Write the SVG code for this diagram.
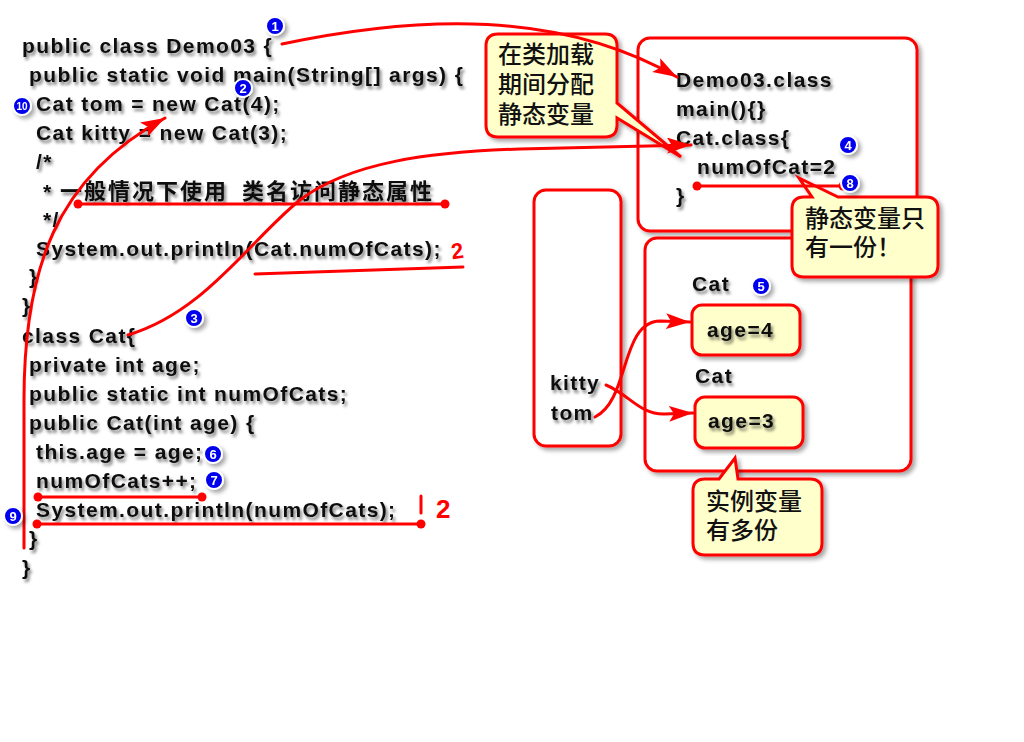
<svg xmlns="http://www.w3.org/2000/svg" width="1024" height="742" viewBox="0 0 1024 742">
<defs>
<filter id="ts" x="-5%" y="-30%" width="115%" height="170%">
<feDropShadow dx="2" dy="3" stdDeviation="1.5" flood-color="#000" flood-opacity="0.5"/>
</filter>
<filter id="bs" x="-10%" y="-10%" width="125%" height="125%">
<feDropShadow dx="3" dy="3" stdDeviation="2" flood-color="#000" flood-opacity="0.35"/>
</filter>
<marker id="ah" markerUnits="userSpaceOnUse" markerWidth="26" markerHeight="18" refX="24" refY="8" orient="auto">
<path d="M0,0 L24,8 L0,16 L5,8 Z" fill="#ff0000"/>
</marker>
<marker id="dot" markerUnits="userSpaceOnUse" markerWidth="10" markerHeight="10" refX="5" refY="5">
<circle cx="5" cy="5" r="4.5" fill="#ff0000"/>
</marker>
</defs>
<style>
.c{font-family:"Liberation Sans",Arial,sans-serif;font-weight:bold;font-size:21px;letter-spacing:1.4px;fill:#111}
.cj{font-family:"Noto Sans CJK SC",sans-serif;font-size:22px;letter-spacing:2px;fill:#111;font-weight:bold}
.co{font-family:"Noto Sans CJK SC",sans-serif;font-size:24px;fill:#111;font-weight:500}
.box{fill:#fff;stroke:#ff0000;stroke-width:3}
.yel{fill:#ffffcc;stroke:#ff0000;stroke-width:3}
.ln{fill:none;stroke:#ff0000;stroke-width:3;stroke-linecap:round}
.bd circle{fill:#0000ee;stroke:#fff;stroke-width:2}
.bd text{font-family:"Liberation Sans",Arial,sans-serif;font-weight:bold;font-size:13px;fill:#fff;text-anchor:middle}
.hw{font-family:"Liberation Sans",Arial,sans-serif;font-size:22px;fill:#ff0000}
</style>
<rect width="1024" height="742" fill="#fff"/>

<g id="code" filter="url(#ts)">
<text class="c" x="22" y="53">public class Demo03 {</text>
<text class="c" x="29" y="82">public static void main(String[] args) {</text>
<text class="c" x="36" y="111">Cat tom = new Cat(4);</text>
<text class="c" x="36" y="140">Cat kitty = new Cat(3);</text>
<text class="c" x="36" y="169">/*</text>
<text class="c" x="43" y="199">*</text>
<text class="cj" x="60" y="199">一般情况下使用<tspan x="242">类名访问静态属性</tspan></text>
<text class="c" x="43" y="227">*/</text>
<text class="c" x="36" y="256">System.out.println(Cat.numOfCats);</text>
<text class="c" x="29" y="284">}</text>
<text class="c" x="22" y="313">}</text>
<text class="c" x="22" y="343">class Cat{</text>
<text class="c" x="29" y="372">private int age;</text>
<text class="c" x="29" y="401">public static int numOfCats;</text>
<text class="c" x="29" y="430">public Cat(int age) {</text>
<text class="c" x="36" y="459">this.age = age;</text>
<text class="c" x="36" y="488">numOfCats++;</text>
<text class="c" x="36" y="517">System.out.println(numOfCats);</text>
<text class="c" x="29" y="546">}</text>
<text class="c" x="22" y="575">}</text>
</g>

<g id="method-area">
<rect class="box" x="638" y="38" width="279" height="193" rx="12" filter="url(#bs)"/>
<g filter="url(#ts)">
<text class="c" x="676" y="87">Demo03.class</text>
<text class="c" x="676" y="116">main(){}</text>
<text class="c" x="676" y="145">Cat.class{</text>
<text class="c" x="697" y="174">numOfCat=2</text>
<text class="c" x="676" y="203">}</text>
</g>
</g>

<g id="stack">
<rect class="box" x="534" y="190" width="87" height="256" rx="12" filter="url(#bs)"/>
<g filter="url(#ts)">
<text class="c" x="550" y="390">kitty</text>
<text class="c" x="551" y="420">tom</text>
</g>
</g>

<g id="heap">
<rect class="box" x="645" y="238" width="266" height="233" rx="12" filter="url(#bs)"/>
<text class="c" x="692" y="291" filter="url(#ts)">Cat</text>
<text class="c" x="695" y="383" filter="url(#ts)">Cat</text>
</g>

<g id="age4">
<rect class="yel" x="692" y="305" width="108" height="50" rx="10" filter="url(#bs)"/>
<text class="c" x="707" y="337" filter="url(#ts)">age=4</text>
</g>

<g id="age3">
<rect class="yel" x="695" y="397" width="108" height="51" rx="10" filter="url(#bs)"/>
<text class="c" x="708" y="428" filter="url(#ts)">age=3</text>
</g>

<g id="callout-load">
<path class="yel" filter="url(#bs)" d="M498,34 H605 Q617,34 617,46 V103 L681,157 L617,118 V125 Q617,137 605,137 H498 Q486,137 486,125 V46 Q486,34 498,34 Z"/>
<text class="co" x="498" y="63">在类加载</text>
<text class="co" x="498" y="93">期间分配</text>
<text class="co" x="498" y="123">静态变量</text>
</g>

<g id="callout-static">
<path class="yel" filter="url(#bs)" d="M804,197 H812 L799,178 L838,197 H926 Q938,197 938,209 V265 Q938,277 926,277 H804 Q792,277 792,265 V209 Q792,197 804,197 Z"/>
<text class="co" x="805" y="227">静态变量只</text>
<text class="co" x="805" y="256">有一份！</text>
</g>

<g id="callout-instance">
<path class="yel" filter="url(#bs)" d="M705,479 H719 L735,458 L738,479 H810 Q822,479 822,491 V543 Q822,555 810,555 H705 Q693,555 693,543 V491 Q693,479 705,479 Z"/>
<text class="co" x="706" y="510">实例变量</text>
<text class="co" x="706" y="539">有多份</text>
</g>

<g id="connectors">
<path class="ln" marker-end="url(#ah)" d="M282,44 C420,15 560,10 677,77"/>
<path class="ln" marker-end="url(#ah)" d="M128,335 C205,312 250,240 300,200 C350,162 430,152 520,149 L691,145"/>
<path class="ln" marker-end="url(#ah)" d="M24,548 L24,400 C24,270 55,178 165,118"/>
<path class="ln" marker-end="url(#ah)" d="M595,417 C630,400 620,322 660,321 L690,322"/>
<path class="ln" marker-end="url(#ah)" d="M606,385 C630,395 640,415 665,414 L693,413"/>
<path class="ln" marker-start="url(#dot)" marker-end="url(#dot)" d="M78,204 L445,204"/>
<path class="ln" marker-start="url(#dot)" marker-end="url(#dot)" d="M38,497 L202,497"/>
<path class="ln" marker-start="url(#dot)" marker-end="url(#dot)" d="M37,524 L421,524"/>
<path class="ln" marker-start="url(#dot)" marker-end="url(#dot)" d="M697,186 L843,186"/>
<path class="ln" d="M255,274 L463,267"/>
<path class="ln" d="M421,496 L421,513"/>
</g>

<g id="marks">
<text class="hw" x="451" y="258" transform="rotate(-8 461 250)" style="font-weight:bold">2</text>
<text class="hw" x="436" y="518" style="font-size:26px;font-weight:bold">2</text>
</g>

<g id="badges" filter="url(#bs)">
<g class="bd"><circle cx="275" cy="26" r="9"/><text x="275" y="31">1</text></g>
<g class="bd"><circle cx="243" cy="88" r="9"/><text x="243" y="93">2</text></g>
<g class="bd"><circle cx="22" cy="106" r="9"/><text x="22" y="110" style="font-size:10px">10</text></g>
<g class="bd"><circle cx="194" cy="318" r="9"/><text x="194" y="323">3</text></g>
<g class="bd"><circle cx="848" cy="145" r="9"/><text x="848" y="150">4</text></g>
<g class="bd"><circle cx="850" cy="183" r="9"/><text x="850" y="188">8</text></g>
<g class="bd"><circle cx="761" cy="286" r="9"/><text x="761" y="291">5</text></g>
<g class="bd"><circle cx="213" cy="454" r="9"/><text x="213" y="459">6</text></g>
<g class="bd"><circle cx="214" cy="480" r="9"/><text x="214" y="485">7</text></g>
<g class="bd"><circle cx="13" cy="516" r="9"/><text x="13" y="521">9</text></g>
</g>
</svg>
